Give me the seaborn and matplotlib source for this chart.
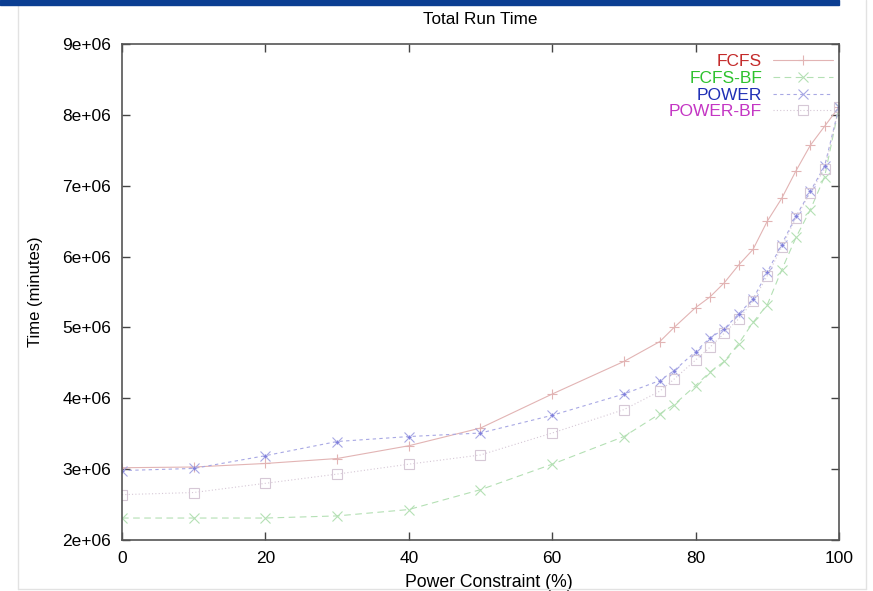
import matplotlib
matplotlib.use("Agg")
import matplotlib.pyplot as plt
import seaborn as sns
import pandas as pd
from matplotlib.lines import Line2D
from matplotlib.patches import Rectangle
from matplotlib.ticker import FuncFormatter

sns.set_theme(style="white")
plt.rcParams['font.family'] = ['Liberation Sans', 'DejaVu Sans']

power_pct = [0, 10, 20, 30, 40, 50, 60, 70, 75, 77, 80, 82, 84, 86, 88, 90, 92, 94, 96, 98, 100]
fcfs = [3.02e6, 3.03e6, 3.08e6, 3.15e6, 3.33e6, 3.58e6, 4.06e6, 4.52e6, 4.80e6, 5.00e6, 5.28e6,
        5.43e6, 5.63e6, 5.88e6, 6.10e6, 6.50e6, 6.82e6, 7.21e6, 7.57e6, 7.84e6, 8.11e6]
fcfs_bf = [2.31e6, 2.31e6, 2.31e6, 2.34e6, 2.43e6, 2.71e6, 3.07e6, 3.46e6, 3.78e6, 3.91e6, 4.18e6,
           4.37e6, 4.52e6, 4.77e6, 5.07e6, 5.32e6, 5.81e6, 6.27e6, 6.66e6, 7.13e6, 8.11e6]
power = [2.98e6, 3.01e6, 3.19e6, 3.39e6, 3.46e6, 3.51e6, 3.76e6, 4.06e6, 4.25e6, 4.39e6, 4.66e6,
         4.85e6, 4.98e6, 5.19e6, 5.40e6, 5.78e6, 6.17e6, 6.57e6, 6.92e6, 7.28e6, 8.11e6]
power_bf = [2.64e6, 2.67e6, 2.80e6, 2.93e6, 3.07e6, 3.20e6, 3.51e6, 3.84e6, 4.10e6, 4.27e6, 4.54e6,
            4.72e6, 4.92e6, 5.12e6, 5.37e6, 5.73e6, 6.13e6, 6.55e6, 6.90e6, 7.24e6, 8.11e6]

series_names = ["FCFS", "FCFS-BF", "POWER", "POWER-BF"]
series_values = [fcfs, fcfs_bf, power, power_bf]
x_ticks = [0, 20, 40, 60, 80, 100]
y_ticks = [2e6, 3e6, 4e6, 5e6, 6e6, 7e6, 8e6, 9e6]

styles = {
    "FCFS":     dict(color="#e2b4b4", marker="+", ls="-",  ms=6.5, mfc="#e2b4b4"),
    "FCFS-BF":  dict(color="#b4e0b4", marker="x", ls=(0, (6, 4)), ms=6.5, mfc="#b4e0b4"),
    "POWER":    dict(color="#a8a8e4", marker="x", ls=(0, (3, 3)), ms=6.5, mfc="#a8a8e4"),
    "POWER-BF": dict(color="#d6c8d6", marker="s", ls=(0, (1, 2)), ms=6.5, mfc="none"),
}
label_colors = {"FCFS": "#c42a2a", "FCFS-BF": "#2ec22e", "POWER": "#1f2fb5", "POWER-BF": "#c436c4"}

df = pd.concat([pd.DataFrame({"x": power_pct, "y": v, "series": n})
                for n, v in zip(series_names, series_values)], ignore_index=True)

fig = plt.figure(figsize=(8.73, 5.91), dpi=100)
ax = fig.add_axes([122/873, 51/591, 717/873, 496/591])

for name in series_names:
    st = styles[name]
    sub = df[df["series"] == name]
    sns.lineplot(data=sub, x="x", y="y", ax=ax, color=st["color"], marker=st["marker"],
                 linestyle=st["ls"], lw=0.8, markersize=st["ms"], mfc=st["mfc"],
                 mec=st["color"], mew=0.8, label=name, errorbar=None)

# POWER uses an asterisk-like point: add small centre cross
sub = df[df["series"] == "POWER"]
ax.plot(sub["x"], sub["y"], ls="none", marker="+", ms=3, color="#8080dc", mew=0.8)

ax.set_xlim(0, 100)
ax.set_ylim(2e6, 9e6)
ax.set_xticks(x_ticks)
ax.set_yticks(y_ticks)
ax.yaxis.set_major_formatter(FuncFormatter(lambda v, p: f"{v:.0e}"))
ax.tick_params(direction="in", length=6, width=1, color="#444444", labelsize=12.5,
               top=True, right=True, left=True, bottom=True, labelcolor="black")
ax.tick_params(axis="y", pad=8)
ax.tick_params(axis="x", pad=8)
for s in ax.spines.values():
    s.set_color("#555555")
    s.set_linewidth(1.2)

ax.set_xlabel("Power Constraint (%)", fontsize=12.7, labelpad=6, color="black")
ax.xaxis.set_label_coords(0.511, -0.068)
ax.set_ylabel("Time (minutes)", fontsize=12, labelpad=14, color="black")
ax.set_title("Total Run Time", fontsize=12.3, pad=14.5, color="black")

handles = [Line2D([], [], color=styles[n]["color"], marker=styles[n]["marker"],
                  linestyle=styles[n]["ls"], lw=0.8, markersize=styles[n]["ms"],
                  mfc=styles[n]["mfc"], mec=styles[n]["color"], mew=0.8) for n in series_names]
leg = ax.legend(handles, series_names, loc="upper right", frameon=False, markerfirst=False,
                fontsize=12.5, handlelength=3.45, labelspacing=0.09, borderaxespad=0.3,
                bbox_to_anchor=(1.009, 1.004), handletextpad=0.65)
for t, n in zip(leg.get_texts(), series_names):
    t.set_color(label_colors[n])

# slide decorations
fig.patches.append(Rectangle((0, 1 - 5/591), 839/873, 5/591, transform=fig.transFigure,
                             color="#0b3e92", zorder=5))
fig.lines.append(Line2D([18/873, 18/873], [2/591, 1 - 5/591], transform=fig.transFigure,
                        color="#e2e2e2", lw=1))
fig.lines.append(Line2D([18/873, 866/873], [2/591, 2/591], transform=fig.transFigure,
                        color="#e2e2e2", lw=1))
fig.lines.append(Line2D([866/873, 866/873], [2/591, 1], transform=fig.transFigure,
                        color="#e2e2e2", lw=1))

fig.savefig("out.png", dpi=100)
